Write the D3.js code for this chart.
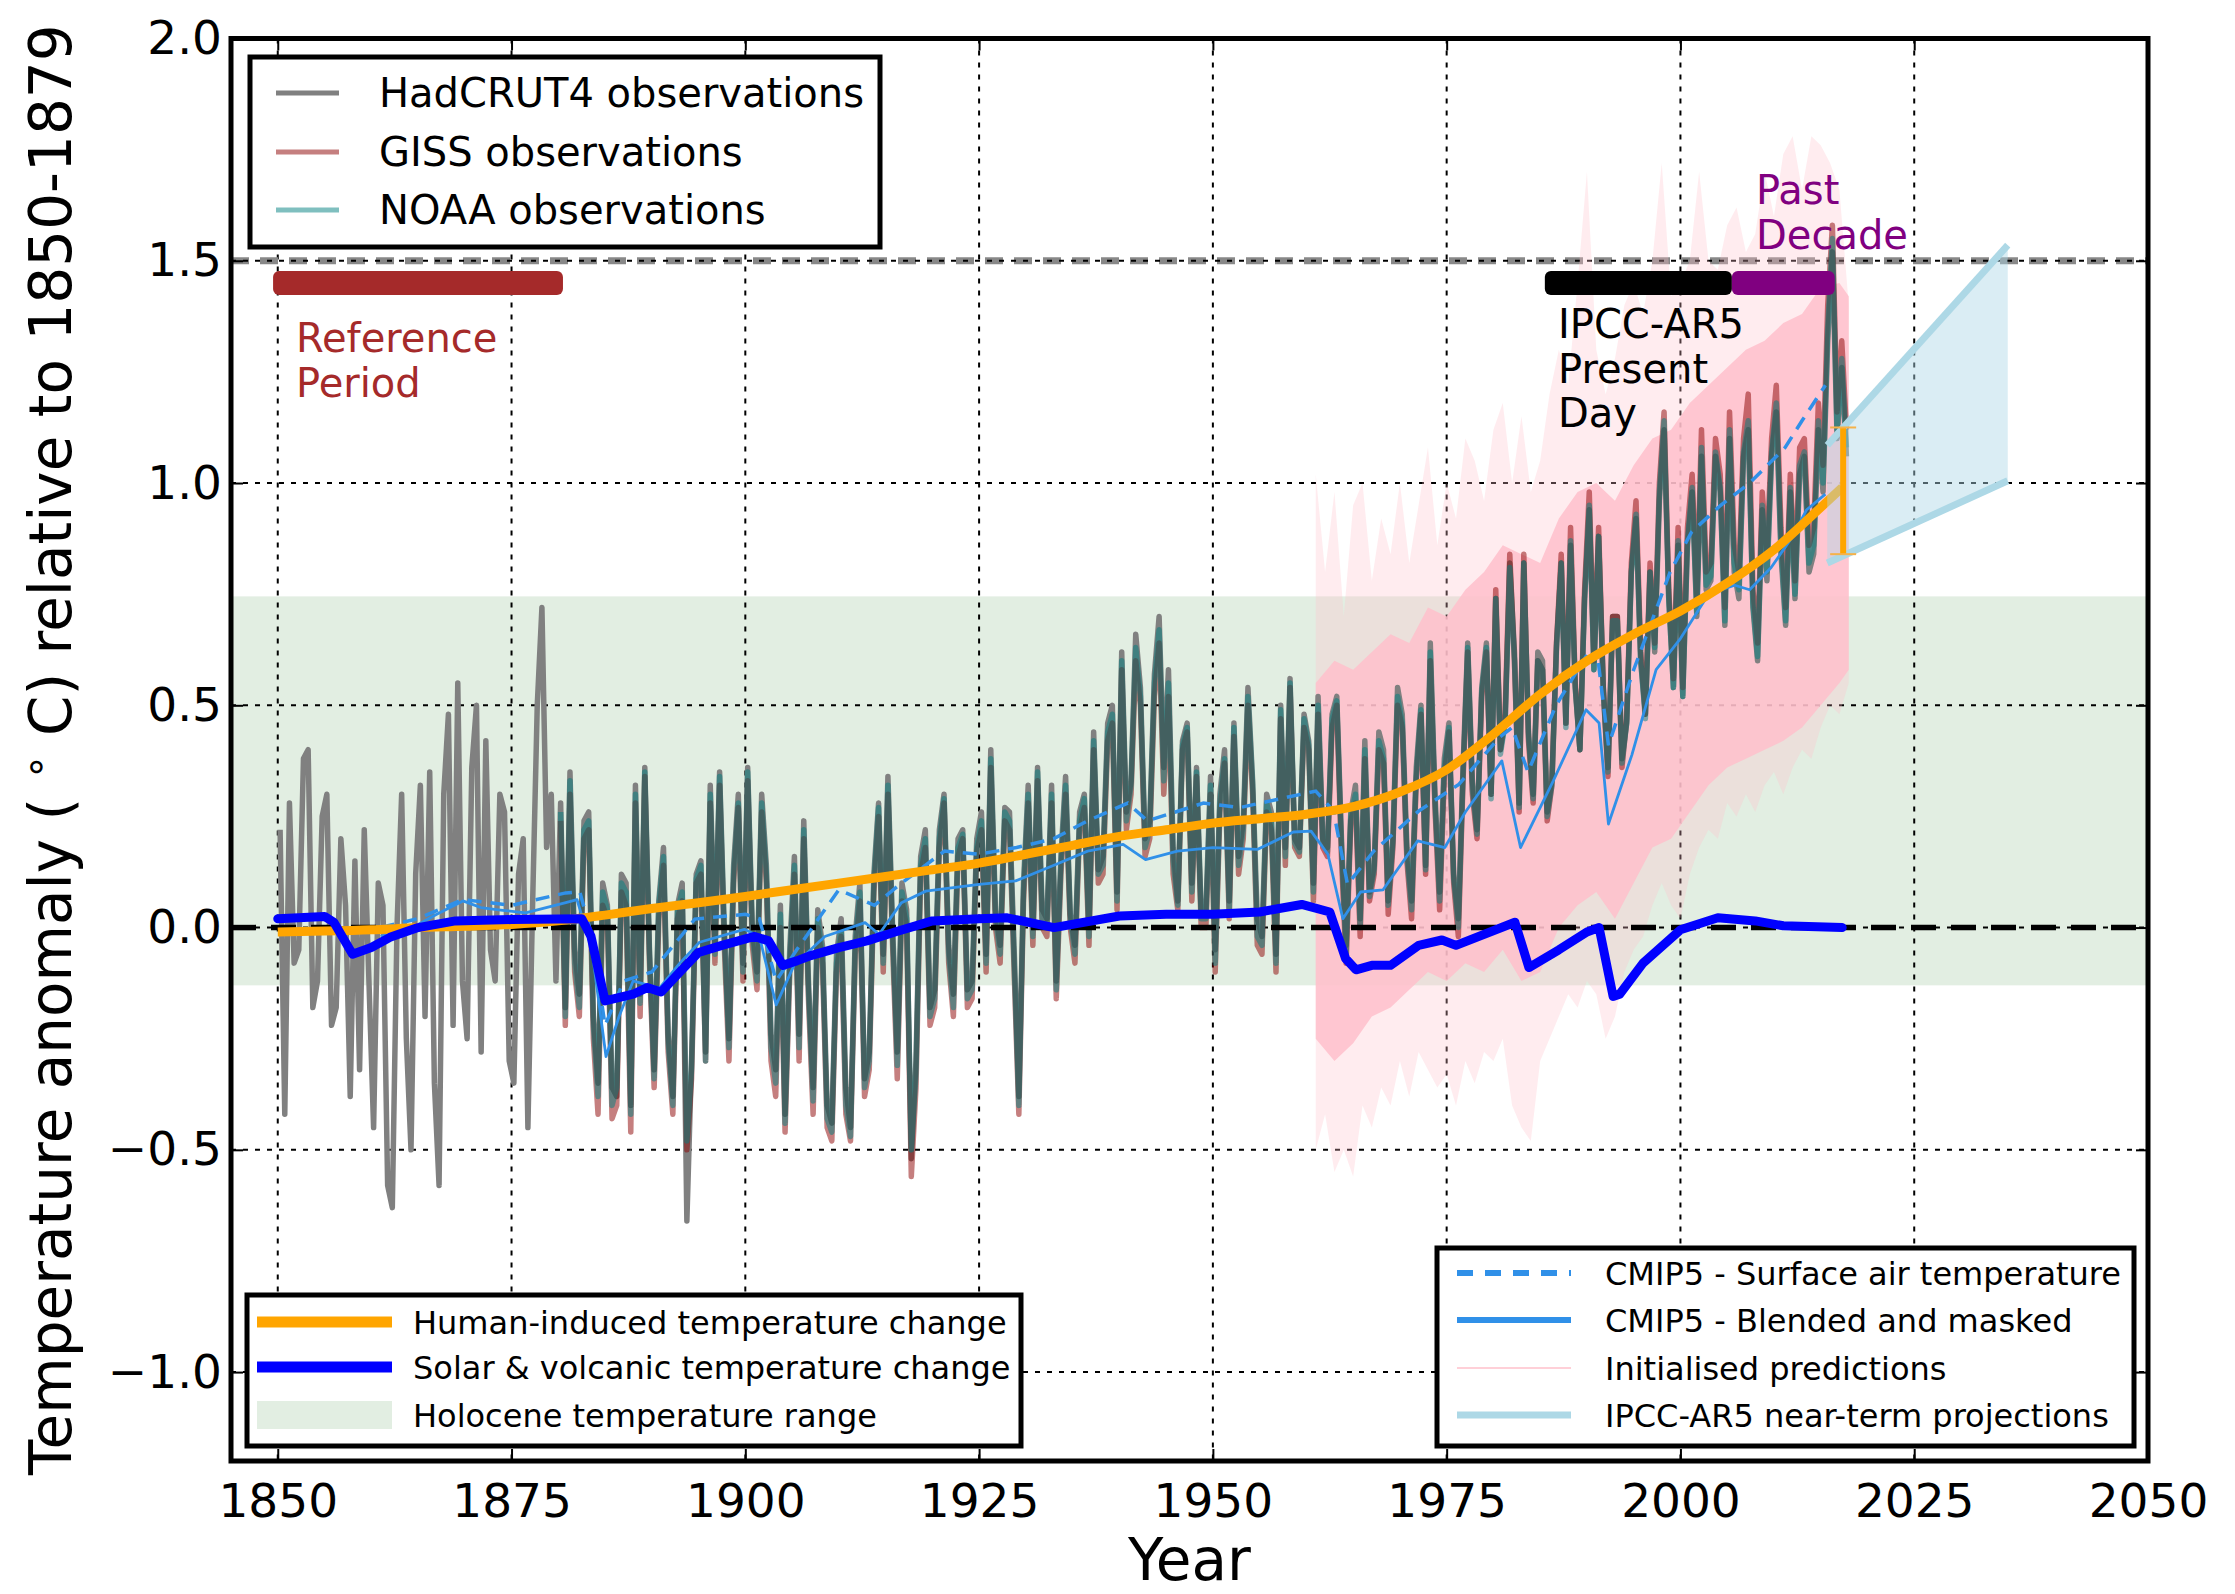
<!DOCTYPE html>
<html>
<head>
<meta charset="utf-8">
<script src="https://cdn.jsdelivr.net/npm/d3@7"></script>
<style>
  body { margin: 0; background: #fff; }
</style>
</head>
<body>
<script>
// ---- data ----
// observations: two values per year (first/second half), anomaly vs 1850-1879
var hadcrutStart = 1850;
var hadcrut4 = [
  0.22,-0.42, 0.28,-0.08, -0.05,0.38, 0.4,-0.18, -0.12,0.25, 0.3,-0.22, -0.18,0.2, 0.05,-0.38, 0.15,-0.32, 0.22,-0.12,
  -0.45,0.1, 0.05,-0.58, -0.63,0.0, 0.3,-0.25, -0.5,0.12, 0.32,-0.2, 0.35,-0.35, -0.58,0.3, 0.48,-0.22, 0.55,-0.12,
  -0.25,0.36, 0.5,-0.28, 0.42,-0.05, -0.12,0.3, 0.26,-0.3, -0.35,0.12, 0.2,-0.45, 0.05,0.5, 0.72,0.18, 0.3,-0.12,
  0.28,-0.18, 0.35,-0.05, -0.15,0.24, 0.26,-0.2, -0.35,0.1, 0.05,-0.36, -0.38,0.12, 0.1,-0.4, 0.32,-0.15, 0.36,-0.05,
  -0.32,0.06, 0.18,-0.24, -0.38,0.05, 0.1,-0.66, -0.3,0.12, 0.15,-0.28, 0.32,-0.04, 0.35,0.0, -0.25,0.14, 0.3,-0.08,
  0.36,0.0, -0.1,0.3, 0.14,-0.24, -0.32,0.05, -0.42,-0.05, 0.16,-0.24, 0.24,-0.12, -0.36,0.04, -0.04,-0.4, -0.44,-0.06,
  0.02,-0.36, -0.45,-0.02, 0.1,-0.34, -0.28,0.12, 0.28,-0.06, 0.34,0.0, -0.28,0.1, 0.04,-0.52, -0.3,0.16, 0.22,-0.18,
  -0.14,0.22, 0.3,-0.04, -0.15,0.2, 0.22,-0.14, -0.12,0.2, 0.26,-0.06, 0.4,0.04, -0.04,0.27, 0.26,-0.05, -0.38,0.1,
  0.32,0.0, 0.36,0.04, 0.02,0.32, -0.12,0.16, 0.34,0.03, -0.04,0.26, 0.3,0.0, 0.44,0.13, 0.16,0.46, 0.5,0.08,
  0.62,0.26, 0.33,0.66, 0.54,0.2, 0.24,0.57, 0.7,0.36, 0.58,0.18, 0.06,0.42, 0.46,0.1, 0.36,0.03, 0.04,0.34,
  -0.05,0.3, 0.4,0.06, 0.46,0.16, 0.24,0.54, 0.33,0.02, -0.02,0.3, 0.26,-0.06, 0.5,0.18, 0.56,0.2, 0.18,0.48,
  0.42,0.1, 0.52,0.2, 0.18,0.48, 0.52,0.2, -0.04,0.26, 0.32,0.02, 0.42,0.08, 0.14,0.44, 0.4,0.06, 0.2,0.54,
  0.48,0.18, 0.06,0.36, 0.5,0.14, 0.64,0.3, 0.08,0.38, 0.46,0.12, 0.02,0.36, 0.64,0.33, 0.22,0.54, 0.64,0.3,
  0.74,0.4, 0.46,0.82, 0.62,0.28, 0.82,0.44, 0.3,0.62, 0.6,0.26, 0.33,0.64, 0.82,0.46, 0.86,0.54, 0.4,0.74,
  0.94,0.58, 0.88,0.54, 0.36,0.7, 0.7,0.38, 0.46,0.8, 0.92,0.6, 0.48,0.8, 0.62,0.96, 1.12,0.74, 0.54,0.86,
  0.52,0.86, 0.98,0.7, 1.06,0.76, 0.78,1.06, 0.98,0.68, 1.1,0.8, 0.74,1.06, 1.12,0.72, 0.6,0.94, 0.78,1.06,
  1.16,0.84, 0.68,0.98, 0.74,1.02, 1.06,0.8, 0.84,1.12, 0.98,1.32, 1.52,1.1, 1.26,1.06
];
var gissStart = 1880;
var giss = [
  0.24,-0.22, 0.3,-0.1, -0.2,0.2, 0.22,-0.25, -0.42,0.05, 0.02,-0.43, -0.4,0.08, 0.05,-0.46, 0.28,-0.2, 0.34,-0.08,
  -0.36,0.02, 0.14,-0.28, -0.42,0.02, 0.06,-0.5, -0.34,0.1, 0.12,-0.3, 0.28,-0.08, 0.32,-0.04, -0.3,0.1, 0.27,-0.12,
  0.33,-0.04, -0.14,0.26, 0.1,-0.3, -0.38,0.0, -0.46,-0.1, 0.12,-0.3, 0.2,-0.16, -0.42,0.0, -0.08,-0.45, -0.48,-0.1,
  -0.02,-0.42, -0.48,-0.06, 0.06,-0.38, -0.32,0.08, 0.25,-0.1, 0.3,-0.04, -0.34,0.06, 0.0,-0.56, -0.36,0.12, 0.18,-0.22,
  -0.18,0.18, 0.28,-0.08, -0.2,0.16, 0.2,-0.18, -0.16,0.17, 0.22,-0.1, 0.36,0.0, -0.08,0.24, 0.22,-0.1, -0.42,0.06,
  0.28,-0.04, 0.33,0.0, -0.02,0.28, -0.16,0.12, 0.3,0.0, -0.08,0.22, 0.27,-0.04, 0.4,0.1, 0.12,0.42, 0.46,0.04,
  0.58,0.22, 0.3,0.6, 0.5,0.16, 0.2,0.52, 0.64,0.3, 0.52,0.12, 0.04,0.4, 0.44,0.06, 0.34,0.0, 0.0,0.3,
  -0.1,0.26, 0.37,0.02, 0.43,0.12, 0.2,0.5, 0.3,-0.04, -0.06,0.26, 0.22,-0.1, 0.47,0.14, 0.54,0.18, 0.16,0.45,
  0.4,0.06, 0.48,0.18, 0.16,0.45, 0.5,0.16, -0.08,0.24, 0.28,-0.02, 0.38,0.06, 0.12,0.4, 0.37,0.03, 0.18,0.5,
  0.45,0.15, 0.02,0.33, 0.48,0.12, 0.6,0.27, 0.04,0.34, 0.44,0.1, -0.02,0.33, 0.62,0.3, 0.2,0.52, 0.62,0.3,
  0.76,0.4, 0.48,0.84, 0.6,0.26, 0.84,0.42, 0.28,0.6, 0.58,0.24, 0.32,0.64, 0.84,0.46, 0.9,0.55, 0.4,0.76,
  0.98,0.6, 0.9,0.54, 0.34,0.7, 0.7,0.36, 0.47,0.82, 0.96,0.62, 0.48,0.82, 0.64,1.0, 1.16,0.76, 0.56,0.9,
  0.54,0.9, 1.02,0.74, 1.12,0.8, 0.82,1.1, 1.02,0.72, 1.16,0.86, 0.8,1.1, 1.2,0.76, 0.64,0.98, 0.84,1.1,
  1.22,0.9, 0.72,1.02, 0.78,1.08, 1.1,0.86, 0.9,1.18, 1.04,1.4, 1.58,1.16, 1.32,1.12
];
var noaaStart = 1880;
var noaa = [
  0.26,-0.2, 0.33,-0.08, -0.18,0.22, 0.24,-0.22, -0.38,0.08, 0.04,-0.4, -0.36,0.1, 0.08,-0.42, 0.3,-0.17, 0.35,-0.06,
  -0.34,0.05, 0.16,-0.26, -0.4,0.04, 0.08,-0.48, -0.32,0.11, 0.14,-0.3, 0.3,-0.06, 0.34,-0.02, -0.27,0.12, 0.28,-0.1,
  0.35,-0.02, -0.12,0.28, 0.12,-0.27, -0.35,0.03, -0.44,-0.08, 0.14,-0.27, 0.22,-0.14, -0.39,0.02, -0.06,-0.43, -0.46,-0.08,
  0.0,-0.4, -0.47,-0.04, 0.08,-0.36, -0.3,0.1, 0.27,-0.08, 0.32,-0.02, -0.31,0.08, 0.02,-0.5, -0.33,0.14, 0.2,-0.2,
  -0.16,0.2, 0.29,-0.06, -0.18,0.18, 0.21,-0.16, -0.14,0.18, 0.24,-0.08, 0.38,0.02, -0.06,0.26, 0.24,-0.08, -0.4,0.08,
  0.3,-0.02, 0.35,0.02, 0.0,0.3, -0.14,0.14, 0.32,0.02, -0.06,0.24, 0.29,-0.02, 0.42,0.12, 0.14,0.44, 0.48,0.06,
  0.6,0.24, 0.32,0.63, 0.52,0.18, 0.22,0.55, 0.67,0.33, 0.55,0.15, 0.05,0.41, 0.45,0.08, 0.35,0.02, 0.02,0.32,
  -0.08,0.28, 0.38,0.04, 0.45,0.14, 0.22,0.52, 0.32,-0.02, -0.04,0.28, 0.24,-0.08, 0.49,0.16, 0.55,0.19, 0.17,0.47,
  0.41,0.08, 0.5,0.19, 0.17,0.47, 0.51,0.18, -0.06,0.25, 0.3,0.0, 0.4,0.07, 0.13,0.42, 0.38,0.05, 0.19,0.52,
  0.46,0.16, 0.04,0.34, 0.49,0.13, 0.62,0.28, 0.06,0.36, 0.45,0.11, 0.0,0.34, 0.63,0.31, 0.21,0.53, 0.63,0.29,
  0.74,0.39, 0.46,0.81, 0.6,0.27, 0.82,0.43, 0.29,0.6, 0.58,0.25, 0.32,0.63, 0.82,0.45, 0.87,0.54, 0.4,0.74,
  0.95,0.58, 0.88,0.53, 0.35,0.69, 0.69,0.37, 0.46,0.8, 0.93,0.6, 0.47,0.8, 0.63,0.98, 1.14,0.74, 0.54,0.87,
  0.52,0.87, 0.99,0.71, 1.08,0.77, 0.79,1.07, 0.99,0.69, 1.12,0.82, 0.76,1.07, 1.14,0.73, 0.61,0.95, 0.8,1.07,
  1.18,0.86, 0.69,0.99, 0.75,1.04, 1.07,0.82, 0.86,1.14, 1.0,1.35, 1.55,1.12, 1.28,1.08
];

// initialised predictions: faint envelope per year, dense core every two years
var predStart = 1961;
var predOuterHigh = [
  1.02,0.8,0.98,0.7,0.95,1.0,0.78,0.92,0.84,1.0,
  0.82,0.95,1.08,0.86,1.0,0.92,1.1,1.05,0.96,1.12,
  1.18,1.0,1.15,0.98,1.05,1.2,1.3,1.22,1.45,1.7,
  1.3,1.2,1.28,1.4,1.45,1.38,1.5,1.72,1.42,1.45,
  1.5,1.7,1.5,1.48,1.58,1.62,1.52,1.56,1.7,1.6,
  1.74,1.78,1.66,1.78,1.76,1.72,1.66,1.4
];
var predOuterLow = [
  -0.5,-0.42,-0.55,-0.5,-0.56,-0.4,-0.45,-0.36,-0.4,-0.3,
  -0.38,-0.28,-0.32,-0.36,-0.33,-0.4,-0.3,-0.35,-0.28,-0.3,
  -0.25,-0.4,-0.45,-0.48,-0.3,-0.25,-0.2,-0.15,-0.18,-0.12,
  -0.15,-0.25,-0.2,-0.1,-0.05,-0.02,0.05,0.1,0.05,0.02,
  0.12,0.18,0.22,0.2,0.28,0.25,0.3,0.26,0.32,0.35,
  0.3,0.36,0.4,0.38,0.45,0.5,0.48,0.55
];
var predCoreYears = [1961,1963,1965,1967,1969,1971,1973,1975,1977,1979,1981,1983,1985,1987,1989,
  1991,1993,1995,1997,1999,2001,2003,2005,2007,2009,2011,2013,2015,2017,2018];
var predCoreHigh = [0.55,0.6,0.58,0.62,0.66,0.64,0.72,0.7,0.76,0.8,0.86,0.84,0.82,0.92,0.98,
  1.0,0.96,1.04,1.1,1.12,1.18,1.22,1.26,1.3,1.32,1.36,1.38,1.44,1.45,1.42];
var predCoreLow = [-0.25,-0.3,-0.26,-0.2,-0.18,-0.14,-0.1,-0.12,-0.08,-0.1,-0.05,-0.12,-0.1,0.0,0.05,
  0.08,0.02,0.1,0.18,0.2,0.26,0.32,0.36,0.38,0.4,0.42,0.45,0.5,0.55,0.58];

// CMIP5 multi-model means [year, value]
var cmipSurface = [
  [1861,0.0],[1865,0.02],[1869.8,0.063],[1875,0.05],[1880.8,0.078],[1882.3,0.08],[1883.6,-0.02],[1885,-0.22],
  [1887,-0.12],[1890,-0.1],[1894.6,0.019],[1900,0.03],[1901.5,0.02],[1903.3,-0.12],[1905.5,-0.05],[1910,0.085],
  [1913.8,0.05],[1916.7,0.1],[1921.3,0.172],[1925,0.165],[1929,0.18],[1933,0.2],[1936.6,0.24],[1940.9,0.28],
  [1943,0.24],[1946,0.26],[1949,0.28],[1952.9,0.27],[1957.7,0.292],[1961,0.307],[1962.9,0.262],[1964.4,0.097],
  [1967.2,0.172],[1972,0.262],[1976.3,0.322],[1980.6,0.427],[1982,0.45],[1983.7,0.35],[1986.7,0.5],[1989.9,0.61],
  [1991.2,0.6],[1992.3,0.41],[1995,0.58],[1998.9,0.8],[2001.2,0.89],[2004.3,0.95],[2007.4,1.0],[2011.2,1.08],
  [2013,1.14],[2015.5,1.22]
];
var cmipBlended = [
  [1861,-0.02],[1864,-0.005],[1867,0.03],[1869.8,0.06],[1871.7,0.045],[1873.6,0.04],[1876.5,0.033],[1880.8,0.056],
  [1882,0.063],[1883.6,-0.05],[1885.1,-0.29],[1886.5,-0.2],[1888,-0.12],[1890.8,-0.137],[1893,-0.08],[1895.1,-0.033],
  [1899.9,-0.004],[1901.5,-0.02],[1903.3,-0.174],[1905.2,-0.085],[1908.5,-0.02],[1912.8,0.011],[1914.3,-0.015],
  [1916.7,0.056],[1919.3,0.082],[1925,0.097],[1928.9,0.105],[1933.2,0.142],[1936.6,0.172],[1940.4,0.187],
  [1942.8,0.153],[1946.2,0.172],[1950,0.18],[1954.8,0.176],[1958.6,0.215],[1960.5,0.217],[1962.3,0.165],
  [1963.9,0.02],[1965.8,0.08],[1968.2,0.085],[1971.9,0.195],[1974.8,0.18],[1977,0.26],[1980.9,0.375],[1982.9,0.18],
  [1986.4,0.33],[1989.9,0.49],[1991.3,0.46],[1992.3,0.233],[1994.8,0.388],[1997.4,0.58],[2000,0.65],[2003,0.75],
  [2005.8,0.77],[2007.4,0.76],[2009.7,0.81],[2012,0.88],[2013.5,0.94],[2015.5,0.975]
];

// attributed warming [year, value]
var humanInduced = [
  [1850,-0.01],[1855,-0.008],[1860,-0.005],[1865,0.0],[1870,0.003],[1875,0.007],[1880,0.015],[1885,0.028],
  [1890,0.043],[1895,0.056],[1900,0.07],[1905,0.085],[1910,0.1],[1915,0.115],[1920,0.13],[1925,0.145],
  [1930,0.165],[1935,0.185],[1940,0.205],[1945,0.22],[1950,0.235],[1955,0.245],[1960,0.255],[1965,0.272],
  [1970,0.305],[1975,0.355],[1980,0.435],[1985,0.525],[1990,0.6],[1995,0.66],[2000,0.712],[2005,0.775],
  [2010,0.85],[2015,0.945],[2017.3,0.99]
];
var solarVolcanic = [
  [1850,0.02],[1855,0.025],[1856,0.012],[1858,-0.06],[1860,-0.045],[1862,-0.022],[1865,0.0],[1869,0.015],
  [1875,0.018],[1882.5,0.02],[1883.5,-0.02],[1885,-0.165],[1886,-0.16],[1888,-0.15],[1889.5,-0.135],[1891,-0.145],
  [1893,-0.1],[1895,-0.056],[1897.5,-0.04],[1901,-0.02],[1902.5,-0.03],[1904,-0.085],[1905.5,-0.075],[1907,-0.063],
  [1910,-0.045],[1913,-0.03],[1916,-0.01],[1920,0.015],[1925,0.02],[1928,0.022],[1933,0.0],[1940,0.026],
  [1945,0.03],[1950,0.03],[1955,0.035],[1959.5,0.052],[1962.5,0.035],[1964.2,-0.07],[1965.3,-0.095],[1967,-0.085],
  [1969,-0.085],[1972,-0.04],[1974.5,-0.028],[1976,-0.04],[1982.3,0.012],[1983.8,-0.09],[1987,-0.05],[1990,-0.01],
  [1991.3,0.0],[1992.8,-0.155],[1993.5,-0.15],[1996,-0.08],[2000,-0.005],[2004,0.022],[2008,0.015],[2011,0.004],
  [2017.3,0.0]
];

// IPCC-AR5 near-term range and the attributed-warming uncertainty bar
var projYears = [2015.7, 2035];
var projLow = [0.82, 1.005];
var projHigh = [1.085, 1.535];
var errorBar = {year: 2017.4, low: 0.84, high: 1.125};

var holoceneRange = [-0.13, 0.745];
var refLevels = [1.5, 0.0];
var periods = [
  {start: 1850, end: 1880, lines: ["Reference", "Period"]},
  {start: 1986, end: 2005, lines: ["IPCC-AR5", "Present", "Day"]},
  {start: 2006, end: 2016, lines: ["Past", "Decade"]}
];
var periodLevel = 1.45;

var xTicks = [1850, 1875, 1900, 1925, 1950, 1975, 2000, 2025, 2050];
var yTicks = [-1.0, -0.5, 0.0, 0.5, 1.0, 1.5, 2.0];

var legendObs = ["HadCRUT4 observations", "GISS observations", "NOAA observations"];
var legendForcing = ["Human-induced temperature change", "Solar & volcanic temperature change", "Holocene temperature range"];
var legendModels = ["CMIP5 - Surface air temperature", "CMIP5 - Blended and masked", "Initialised predictions", "IPCC-AR5 near-term projections"];

// ---- layout ----
var W = 2235, H = 1594;
var margin = {top: 38.5, right: 87, bottom: 133, left: 231};
var font = "'DejaVu Sans', sans-serif";

var svg = d3.select("body").append("svg")
    .attr("width", W)
    .attr("height", H)
    .style("font-family", font);

var x = d3.scaleLinear().domain([1845, 2050]).range([margin.left, W - margin.right]);
var y = d3.scaleLinear().domain([-1.2, 2.0]).range([H - margin.bottom, margin.top]);

svg.append("clipPath").attr("id", "plot")
    .append("rect")
    .attr("x", x(1845)).attr("y", y(2.0))
    .attr("width", x(2050) - x(1845)).attr("height", y(-1.2) - y(2.0));

var plot = svg.append("g").attr("clip-path", "url(#plot)");

// holocene band
plot.append("rect")
    .attr("x", x(1845)).attr("width", x(2050) - x(1845))
    .attr("y", y(holoceneRange[1])).attr("height", y(holoceneRange[0]) - y(holoceneRange[1]))
    .attr("fill", "#e2eee2");

// grid
plot.selectAll(".vgrid").data(xTicks).enter().append("line")
    .attr("x1", function (d) { return x(d); }).attr("x2", function (d) { return x(d); })
    .attr("y1", y(2.0)).attr("y2", y(-1.2))
    .attr("stroke", "#000").attr("stroke-width", 2).attr("stroke-dasharray", "5,7");

// 1.5 degree level (gray dashed under the grid)
plot.append("line")
    .attr("x1", x(1845)).attr("x2", x(2050))
    .attr("y1", y(refLevels[0])).attr("y2", y(refLevels[0]))
    .attr("stroke", "#888").attr("stroke-width", 7).attr("stroke-dasharray", "18,11");

plot.selectAll(".hgrid").data(yTicks).enter().append("line")
    .attr("x1", x(1845)).attr("x2", x(2050))
    .attr("y1", function (d) { return y(d); }).attr("y2", function (d) { return y(d); })
    .attr("stroke", "#000").attr("stroke-width", 2).attr("stroke-dasharray", "5,7");

// initialised predictions
var outer = predOuterHigh.map(function (v, i) { return {t: predStart + i, hi: v, lo: predOuterLow[i]}; });
var core = predCoreYears.map(function (t, i) { return {t: t, hi: predCoreHigh[i], lo: predCoreLow[i]}; });
var band = d3.area()
    .x(function (d) { return x(d.t); })
    .y0(function (d) { return y(d.lo); })
    .y1(function (d) { return y(d.hi); });
plot.append("path").datum(outer).attr("d", band).attr("fill", "#ffc0cb").attr("opacity", 0.3);
plot.append("path").datum(core).attr("d", band).attr("fill", "#ffc0cb").attr("opacity", 0.85);

// observations
function halfYearly(arr, start) {
    return arr.map(function (v, i) { return [start + 0.25 + i * 0.5, v]; });
}
var line = d3.line()
    .x(function (d) { return x(d[0]); })
    .y(function (d) { return y(d[1]); });

var obsSeries = [
    {pts: halfYearly(hadcrut4, hadcrutStart), color: "#808080", op: 1},
    {pts: halfYearly(giss, gissStart), color: "#8b0000", op: 0.5},
    {pts: halfYearly(noaa, noaaStart), color: "#008080", op: 0.5}
];
obsSeries.forEach(function (s) {
    plot.append("path").datum(s.pts).attr("d", line)
        .attr("fill", "none").attr("stroke", s.color).attr("stroke-opacity", s.op)
        .attr("stroke-width", 5.5).attr("stroke-linejoin", "round");
});

// zero line
plot.append("line")
    .attr("x1", x(1845)).attr("x2", x(2050))
    .attr("y1", y(refLevels[1])).attr("y2", y(refLevels[1]))
    .attr("stroke", "#000").attr("stroke-width", 5.5).attr("stroke-dasharray", "25,15");

// CMIP5
plot.append("path").datum(cmipSurface).attr("d", line)
    .attr("fill", "none").attr("stroke", "#3090e8").attr("stroke-width", 3.5)
    .attr("stroke-dasharray", "14,9");
plot.append("path").datum(cmipBlended).attr("d", line)
    .attr("fill", "none").attr("stroke", "#3090e8").attr("stroke-width", 2.8)
    .attr("stroke-linejoin", "round");

// attributed warming
plot.append("path").datum(humanInduced).attr("d", line.curve(d3.curveMonotoneX))
    .attr("fill", "none").attr("stroke", "#ffa500").attr("stroke-width", 9);
line.curve(d3.curveLinear);
plot.append("path").datum(solarVolcanic).attr("d", line)
    .attr("fill", "none").attr("stroke", "#0000ff").attr("stroke-width", 9)
    .attr("stroke-linejoin", "round").attr("stroke-linecap", "round");

// IPCC-AR5 near-term projections
var proj = projYears.map(function (t, i) { return {t: t, lo: projLow[i], hi: projHigh[i]}; });
plot.append("path").datum(proj).attr("d", band).attr("fill", "#add8e6").attr("opacity", 0.45);
[projLow, projHigh].forEach(function (arr) {
    plot.append("path").datum(projYears.map(function (t, i) { return [t, arr[i]]; })).attr("d", line)
        .attr("fill", "none").attr("stroke", "#add8e6").attr("stroke-width", 7);
});

// uncertainty bar on present-day attributed warming
plot.append("line")
    .attr("x1", x(errorBar.year)).attr("x2", x(errorBar.year))
    .attr("y1", y(errorBar.low)).attr("y2", y(errorBar.high))
    .attr("stroke", "#ffa500").attr("stroke-width", 6);
[errorBar.low, errorBar.high].forEach(function (v) {
    plot.append("line")
        .attr("x1", x(errorBar.year) - 13).attr("x2", x(errorBar.year) + 13)
        .attr("y1", y(v)).attr("y2", y(v))
        .attr("stroke", "#f5b24a").attr("stroke-width", 2);
});

// period bars + labels
var periodColors = ["#a52a2a", "#000000", "#800080"];
var periodText = [{dx: 296, y0: 352}, {dx: 1558, y0: 338}, {dx: 1756, y0: 204}];
periods.forEach(function (p, i) {
    svg.append("rect")
        .attr("x", x(p.start - 0.5)).attr("width", x(p.end + 0.5) - x(p.start - 0.5))
        .attr("y", y(periodLevel) - 12).attr("height", 24).attr("rx", 6)
        .attr("fill", periodColors[i]);
    var t = svg.append("text").attr("font-size", 40).attr("fill", periodColors[i]);
    p.lines.forEach(function (s, k) {
        t.append("tspan").attr("x", periodText[i].dx).attr("y", periodText[i].y0 + k * 44.5).text(s);
    });
});

// frame
svg.append("rect")
    .attr("x", x(1845)).attr("y", y(2.0))
    .attr("width", x(2050) - x(1845)).attr("height", y(-1.2) - y(2.0))
    .attr("fill", "none").attr("stroke", "#000").attr("stroke-width", 5);

// axes (ticks pointing inward)
function styleAxis(g) {
    g.select(".domain").remove();
    g.selectAll(".tick line").attr("stroke", "#000").attr("stroke-width", 2);
    g.selectAll(".tick text").attr("fill", "#000").attr("font-size", 47).attr("font-family", font);
}
svg.append("g").attr("transform", "translate(0," + y(-1.2) + ")")
    .call(d3.axisBottom(x).tickValues(xTicks).tickFormat(d3.format("d")).tickSizeInner(-12).tickSizeOuter(0).tickPadding(23))
    .call(styleAxis);
svg.append("g").attr("transform", "translate(0," + y(2.0) + ")")
    .call(d3.axisTop(x).tickValues(xTicks).tickFormat("").tickSizeInner(-12).tickSizeOuter(0))
    .call(styleAxis);
svg.append("g").attr("transform", "translate(" + x(1845) + ",0)")
    .call(d3.axisLeft(y).tickValues(yTicks).tickFormat(d3.format(".1f")).tickSizeInner(-12).tickSizeOuter(0).tickPadding(9))
    .call(styleAxis);
svg.append("g").attr("transform", "translate(" + x(2050) + ",0)")
    .call(d3.axisRight(y).tickValues(yTicks).tickFormat("").tickSizeInner(-12).tickSizeOuter(0))
    .call(styleAxis);

// axis titles
svg.append("text")
    .attr("x", (x(1845) + x(2050)) / 2).attr("y", 1580)
    .attr("text-anchor", "middle").attr("font-size", 58).text("Year");
var yl = svg.append("text")
    .attr("transform", "translate(71," + ((y(2.0) + y(-1.2)) / 2) + ") rotate(-90)")
    .attr("text-anchor", "middle").attr("font-size", 58);
yl.append("tspan").text("Temperature anomaly ( ");
yl.append("tspan").attr("font-size", 40).attr("dy", -22).text("\u2218");
yl.append("tspan").attr("dy", 22).text(" C) relative to 1850-1879");

// legends
function legend(box, rows, fontSize, sample, textX, labels, draw) {
    svg.append("rect")
        .attr("x", box[0]).attr("y", box[1]).attr("width", box[2]).attr("height", box[3])
        .attr("fill", "#fff").attr("stroke", "#000").attr("stroke-width", 5);
    labels.forEach(function (lab, i) {
        draw(i, rows[i], sample);
        svg.append("text").attr("x", textX).attr("y", rows[i] + fontSize * 0.36)
            .attr("font-size", fontSize).text(lab);
    });
}
function sampleLine(cy, sample, color, width, opacity, dash) {
    var l = svg.append("line")
        .attr("x1", sample[0]).attr("x2", sample[1]).attr("y1", cy).attr("y2", cy)
        .attr("stroke", color).attr("stroke-width", width).attr("stroke-opacity", opacity);
    if (dash) l.attr("stroke-dasharray", dash);
}

legend([250, 57, 630, 190], [93, 152, 210], 40, [276, 339], 379, legendObs, function (i, cy, s) {
    sampleLine(cy, s, obsSeries[i].color, 5, obsSeries[i].op);
});
legend([247, 1295, 774, 151], [1322, 1367, 1415], 32, [257, 392], 413, legendForcing, function (i, cy, s) {
    if (i === 0) sampleLine(cy, s, "#ffa500", 11, 1);
    if (i === 1) sampleLine(cy, s, "#0000ff", 11, 1);
    if (i === 2) svg.append("rect").attr("x", s[0]).attr("y", cy - 14).attr("width", s[1] - s[0]).attr("height", 28).attr("fill", "#e2eee2");
});
legend([1437, 1248, 697, 198], [1273, 1320, 1368, 1415], 32, [1457, 1571], 1605, legendModels, function (i, cy, s) {
    if (i === 0) sampleLine(cy, s, "#3090e8", 6, 1, "16,12");
    if (i === 1) sampleLine(cy, s, "#3090e8", 6, 1);
    if (i === 2) sampleLine(cy, s, "#ffc0cb", 1.5, 1);
    if (i === 3) sampleLine(cy, s, "#add8e6", 7, 1);
});
</script>
</body>
</html>
